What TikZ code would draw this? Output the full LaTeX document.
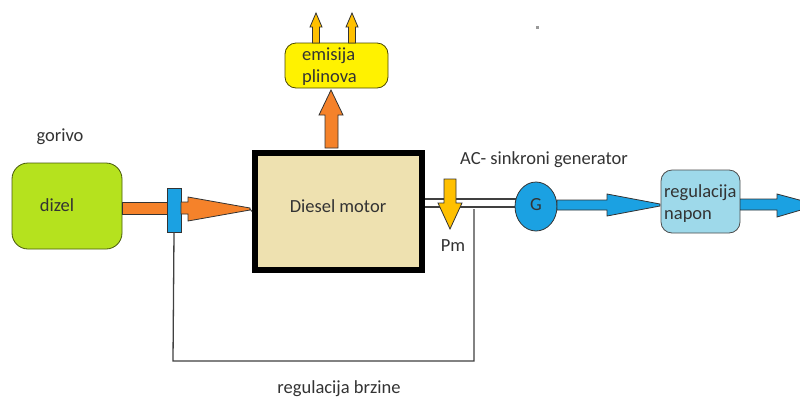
\documentclass[tikz,border=0pt]{standalone}
\usepackage{fontspec}
\setmainfont{Carlito}
\usetikzlibrary{shapes.geometric}
\definecolor{txt}{HTML}{333333}
\definecolor{orng}{HTML}{F5822A}
\definecolor{gold}{HTML}{FFC000}
\definecolor{yel}{HTML}{FFF200}
\definecolor{blu}{HTML}{1BA1E2}
\definecolor{lblu}{HTML}{9ED9EA}
\definecolor{tan}{HTML}{EEE1B0}
\definecolor{grn}{HTML}{B5E21E}
\definecolor{lin}{HTML}{404040}
\tikzset{
  lbl/.style={text=txt, font=\fontsize{18.5}{22}\selectfont, inner sep=0pt},
  blockarrow/.style={draw=black!80, line width=0.8pt, line join=miter},
  thinline/.style={draw=lin, line width=1.3pt},
}
\begin{document}
\begin{tikzpicture}[x=1pt,y=-1pt]
\useasboundingbox (0,0) rectangle (800,397);
\fill[white] (0,0) rectangle (800,397);

% dizel box
\draw[fill=grn, draw=black!60!grn, line width=0.8pt, rounded corners=16] (12,163) rectangle (122,249);
\node[lbl] (dizel) at (57,205) {dizel};
\node[lbl] (gorivo) at (60,137) {gorivo};

% orange feed bar
\draw[blockarrow, fill=orng] (122,202) rectangle (170,214);

% feedback loop line
\coordinate (fbL) at (173,361);
\coordinate (fbR) at (474,361);
\coordinate (fbT) at (474,209);

% valve
\node[draw=black!80, fill=blu, line width=0.8pt, minimum width=14pt, minimum height=44pt, inner sep=0pt] (valve) at (174,210) {};
\draw[thinline] (valve.south) -- (fbL) -- (fbR) -- (fbT);

% orange tapering arrow into motor
\draw[blockarrow, fill=orng] (181,202) -- (188,202) -- (188,197) -- (250,208) -- (250,210) -- (188,221) -- (188,214) -- (181,214) -- cycle;

% Diesel motor
\node[draw=black, fill=tan, line width=6pt, minimum width=167pt, minimum height=117pt, inner sep=0pt] (motor) at (338.5,211.5) {};
\node[lbl] at (338,206) {Diesel motor};
\draw[lin, line width=1pt] (250,209) -- (motor.west);

% orange up arrow to emissions
\draw[blockarrow, fill=orng] (325,148) -- (325,115) -- (319,115) -- (331,90) -- (343,115) -- (338,115) -- (338,148) -- cycle;

% emission box
\draw[fill=yel, draw=black!70!yel, line width=0.8pt, rounded corners=11] (285,43) rectangle (388,88);
\node[lbl, align=left, anchor=west] (emis) at (302,67) {emisija\\plinova};

% small gold arrows
\foreach \xx in {316,352} {
  \draw[blockarrow, fill=gold] (\xx-3.5,43) -- (\xx-3.5,27) -- (\xx-6,27) -- (\xx,13) -- (\xx+6,27) -- (\xx+3.5,27) -- (\xx+3.5,43) -- cycle;
}

% shaft
\fill[white] (425,199) rectangle (516,207);
\draw[lin, line width=1.2pt] (425,199) -- (516,199);
\draw[lin, line width=1.2pt] (425,207) -- (516,207);

% Pm arrow
\draw[blockarrow, fill=gold] (444,179) -- (456,179) -- (456,203) -- (462,203) -- (450,229) -- (438,203) -- (444,203) -- cycle;
\node[lbl] (pm) at (453,246) {Pm};

% generator
\node[draw=black!80, fill=blu, line width=0.8pt, ellipse, minimum width=42pt, minimum height=49pt, inner sep=0pt] (gen) at (536,206.5) {};
\node[lbl] at (536,205) {G};
\node[lbl, anchor=west] (acgen) at (460,160) {AC- sinkroni generator};

% blue arrow G -> regulation
\draw[blockarrow, fill=blu] (557,200) -- (607,200) -- (607,194) -- (660,204) -- (660,206) -- (607,216) -- (607,210) -- (557,210) -- cycle;

% voltage regulation box
\draw[fill=lblu, draw=black!70, line width=0.8pt, rounded corners=11] (661,170) rectangle (740,233);
\node[lbl, align=left, anchor=west] (reg) at (664,203.5) {regulacija\\napon};

% output blue arrow
\begin{scope}
\clip (740,150) rectangle (800,260);
\draw[blockarrow, fill=blu] (740,199) -- (777,199) -- (777,194) -- (818,205) -- (777,217) -- (777,210) -- (740,210) -- cycle;
\end{scope}

% labels
\node[lbl] (rb) at (339,389) {regulacija brzine};

% tiny dot
\fill[gray!80] (536,26) rectangle (538.5,28.5);
\end{tikzpicture}
\end{document}
